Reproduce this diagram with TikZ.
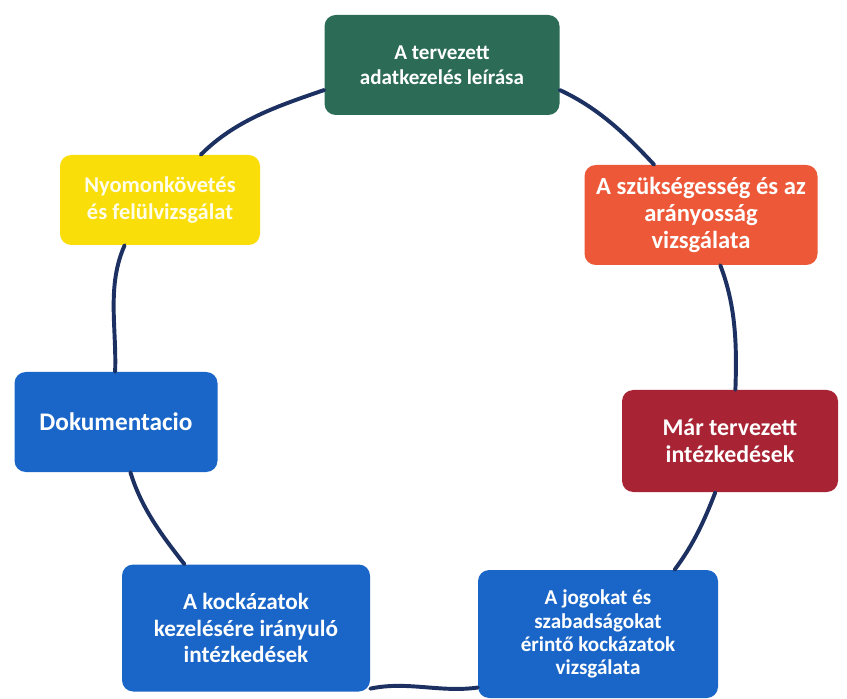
\documentclass[tikz,border=0pt]{standalone}
\usepackage{fontspec}
\setmainfont{Carlito}
\definecolor{cgreen}{RGB}{44,108,86}
\definecolor{corange}{RGB}{236,88,56}
\definecolor{cdred}{RGB}{168,36,52}
\definecolor{cblue}{RGB}{26,102,200}
\definecolor{cyellow}{RGB}{250,222,10}
\definecolor{cline}{RGB}{28,48,98}
\def\u{0.025cm}
\tikzset{
  box/.style={rounded corners=8pt, align=center, text=white, inner sep=2pt,
    font=\bfseries},
  link/.style={draw=cline, line width=2.8pt, line cap=round, looseness=0.9},
}
\begin{document}
\begin{tikzpicture}[x=0.025cm,y=0.025cm]
\useasboundingbox (0,0) rectangle (847,698);
\fill[white] (0,0) rectangle (847,698);
\node[box, fill=cgreen, minimum width={235*\u}, minimum height={100*\u},
  font=\fontsize{15}{18}\selectfont\bfseries] (plan) at (442,633)
  {A tervezett\\adatkezelés leírása};
\node[box, fill=corange, minimum width={233*\u}, minimum height={100*\u},
  font=\fontsize{17.5}{19.5}\selectfont\bfseries] (need) at (701,483)
  {A szükségesség és az\\arányosság\\vizsgálata};
\node[box, fill=cdred, minimum width={216*\u}, minimum height={102*\u},
  font=\fontsize{17}{19}\selectfont\bfseries] (meas) at (730,257)
  {Már tervezett\\intézkedések};
\node[box, fill=cblue, minimum width={240*\u}, minimum height={128*\u},
  font=\fontsize{15}{16.5}\selectfont\bfseries] (risk) at (598,64)
  {A jogokat és\\szabadságokat\\érintő kockázatok\\vizsgálata};
\node[box, fill=cblue, minimum width={248*\u}, minimum height={127*\u},
  font=\fontsize{16.5}{19}\selectfont\bfseries] (treat) at (246,70)
  {A kockázatok\\kezelésére irányuló\\intézkedések};
\node[box, fill=cblue, minimum width={203*\u}, minimum height={100*\u},
  font=\fontsize{18}{20}\selectfont\bfseries] (doc) at (116,276)
  {Dokumentacio};
\node[box, fill=cyellow, text=white!92!yellow, minimum width={200*\u}, minimum height={90*\u},
  font=\fontsize{16}{19}\selectfont\bfseries] (mon) at (160,498)
  {Nyomonkövetés\\és felülvizsgálat};
\draw[link] (plan.-12) to[out=-25, in=133] (need.133);
\draw[link] (need.-69) to[out=-69, in=88] (meas.84);
\draw[link] (meas.-106) to[out=-111, in=53] (risk.40);
\draw[link] (risk.204) to[out=188, in=12] (treat.-26);
\draw[link] (treat.134) to[out=128, in=-73] (doc.-74);
\draw[link] (doc.91) to[out=88, in=246] (mon.232);
\draw[link] (mon.48) to[out=45, in=199] (plan.192);
\end{tikzpicture}
\end{document}
